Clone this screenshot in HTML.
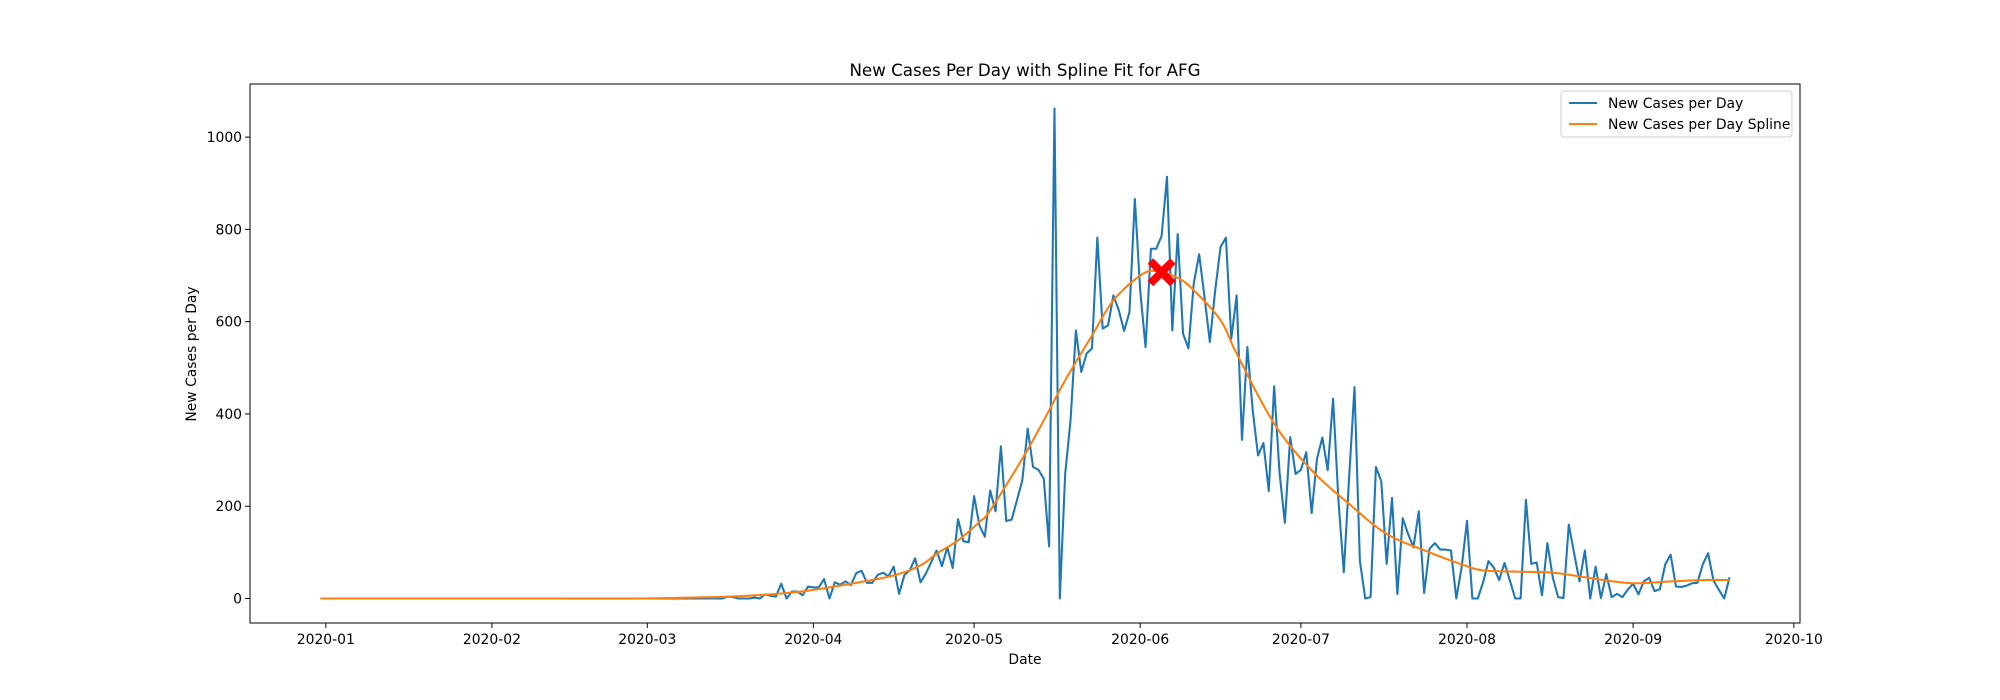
<!DOCTYPE html>
<html><head><meta charset="utf-8"><style>
html,body{margin:0;padding:0;background:#fff;}
svg{display:block;font-family:"DejaVu Sans","Liberation Sans",sans-serif;}
</style></head><body>
<svg id="chart" width="2000" height="700" viewBox="0 0 2000 700" xmlns="http://www.w3.org/2000/svg">
<rect x="0" y="0" width="2000" height="700" fill="#fff"/>
<text x="1025" y="76" text-anchor="middle" font-size="16.7">New Cases Per Day with Spline Fit for AFG</text>
<text x="1025" y="664" text-anchor="middle" font-size="13.9">Date</text>
<text transform="translate(196,354) rotate(-90)" text-anchor="middle" font-size="13.9">New Cases per Day</text>
<g id="axes"></g>
<g id="series"></g>
<rect x="250" y="84" width="1550" height="539" fill="none" stroke="#000" stroke-width="1"/>
<g id="legend">
<rect x="1561" y="91" width="231" height="46" rx="3" fill="#fff" fill-opacity="0.8" stroke="#ccc"/>
<line x1="1569" y1="103" x2="1597" y2="103" stroke="#1f77b4" stroke-width="2.08"/>
<text x="1608" y="108" font-size="13.9">New Cases per Day</text>
<line x1="1569" y1="124" x2="1597" y2="124" stroke="#ff7f0e" stroke-width="2.08"/>
<text x="1608" y="129" font-size="13.9">New Cases per Day Spline</text>
</g>
</svg>
<script>
// Day 0 = 2019-12-31
const caseDays = [76,77,78,79,80,81,82,83,84,85,86,87,88,89,90,91,92,93,94,95,96,97,98,99,100,101,102,103,104,105,106,107,108,109,110,111,112,113,114,115,116,117,118,119,120,121,122,123,124,125,126,127,128,129,130,131,132,133,134,135,136,137,138,139,140,141,142,143,144,145,146,147,148,149,150,151,152,153,154,155,156,157,158,159,160,161,162,163,164,165,166,167,168,169,170,171,172,173,174,175,176,177,178,179,180,181,182,183,184,185,186,187,188,189,190,191,192,193,194,195,196,197,198,199,200,201,202,203,204,205,206,207,208,209,210,211,212,213,214,215,216,217,218,219,220,221,222,223,224,225,226,227,228,229,230,231,232,233,234,235,236,237,238,239,240,241,242,243,244,245,246,247,248,249,250,251,252,253,254,255,256,257,258,259,260,261,262,263];
const caseVals = [4,3,0,0,0,2,0,9,6,4,32,0,15,15,7,26,24,24,42,0,35,30,37,29,55,60,34,34,51,56,48,69,10,51,61,87,35,54,79,104,70,111,66,172,124,122,222,158,134,234,189,330,168,171,213,256,368,285,279,260,113,1062,0,270,386,581,491,531,542,782,585,592,657,625,580,621,866,668,545,758,758,786,914,581,790,574,542,683,746,654,556,668,762,782,563,657,344,545,408,310,337,233,460,274,164,350,270,279,317,185,303,349,278,433,213,57,263,458,82,0,3,285,254,75,218,10,174,140,111,189,12,108,120,106,106,104,0,68,168,0,0,35,81,67,40,77,39,0,0,214,75,78,7,120,46,3,1,160,97,37,104,0,69,1,53,3,10,3,19,32,9,37,45,16,20,74,95,26,25,28,33,34,74,98,39,19,0,46];
const splineDays = [0,39,59,69,76,84,91,99,107,112,115,119,123,125,131,135,139,144,148,153,156,160,163,168,171,178,185,192,199,207,213,217,224,230,236,242,246,252,258,263];
const splineVals = [0,0,0,2,4,9,17,32,50,72,97,126,166,191,303,386,473,570,646,700,710,695,668,603,531,379,278,205,140,100,74,61,58,56,46,36,33,37,40,40];
const yTicks = [0,200,400,600,800,1000];
const xTickDays = [1,32,61,92,122,153,183,214,245,275];
const xTickLabels = ["2020-01","2020-02","2020-03","2020-04","2020-05","2020-06","2020-07","2020-08","2020-09","2020-10"];
const markerDay = 157;
const markerVal = 707;

const NS = "http://www.w3.org/2000/svg";
const L = 250, R = 1800, T = 84, B = 623;
const firstDay = 0, lastDay = caseDays[caseDays.length-1];
const dspan = lastDay - firstDay;
const xmin = firstDay - 0.05*dspan, xmax = lastDay + 0.05*dspan;
const vmax = Math.max(...caseVals), vmin = 0;
const ymin = vmin - 0.05*(vmax-vmin), ymax = vmax + 0.05*(vmax-vmin);
const X = d => L + (d - xmin)/(xmax - xmin)*(R - L);
const Y = v => B - (v - ymin)/(ymax - ymin)*(B - T);
function mk(tag, attrs, parent){const e=document.createElementNS(NS,tag);for(const k in attrs)e.setAttribute(k,attrs[k]);parent.appendChild(e);return e;}

const axes = document.getElementById('axes');
yTicks.forEach(v=>{
  const y = Y(v);
  const t = mk('line',{x1:L-4.9,x2:L,y1:y,y2:y,stroke:'#000','stroke-width':1},axes);
  
  
  const tx = mk('text',{x:L-8,y:y+5,'text-anchor':'end','font-size':13.9},axes);
  
  
  tx.textContent = v;
});
xTickDays.forEach((d,i)=>{
  const x = X(d);
  const t = mk('line',{x1:x,x2:x,y1:B,y2:B+4.9,stroke:'#000','stroke-width':1},axes);
  
  
  const tx = mk('text',{x:x,y:B+21,'text-anchor':'middle','font-size':13.9},axes);
  
  
  tx.textContent = xTickLabels[i];
});

const series = document.getElementById('series');
const allDays = [], allVals = [];
for(let d=firstDay; d<caseDays[0]; d++){allDays.push(d);allVals.push(0);}
caseDays.forEach((d,i)=>{allDays.push(d);allVals.push(caseVals[i]);});
const pts = allDays.map((d,i)=>X(d).toFixed(2)+','+Y(allVals[i]).toFixed(2)).join(' ');
const cl = mk('polyline',{points:pts,fill:'none',stroke:'#1f77b4','stroke-width':2.08,'stroke-linejoin':'round'},series);



const sp = [];
for(let i=0;i<splineDays.length-1;i++){
  const p0=i>0?i-1:i, p3=i+2<splineDays.length?i+2:i+1;
  for(let s=0;s<10;s++){
    const t=s/10, t2=t*t, t3=t2*t;
    const f=(a,b,c,e)=>0.5*((2*b)+(-a+c)*t+(2*a-5*b+4*c-e)*t2+(-a+3*b-3*c+e)*t3);
    const d=f(splineDays[p0],splineDays[i],splineDays[i+1],splineDays[p3]);
    const v=f(splineVals[p0],splineVals[i],splineVals[i+1],splineVals[p3]);
    sp.push(X(d).toFixed(2)+','+Y(v).toFixed(2));
  }
}
sp.push(X(splineDays[splineDays.length-1]).toFixed(2)+','+Y(splineVals[splineVals.length-1]).toFixed(2));
const sl = mk('polyline',{points:sp.join(' '),fill:'none',stroke:'#ff7f0e','stroke-width':2.08,'stroke-linejoin':'round'},series);



const mx=X(markerDay), my=Y(markerVal), a=14, w=5.5;
const xp = [[-a+w,-a],[0,-w],[a-w,-a],[a,-a+w],[w,0],[a,a-w],[a-w,a],[0,w],[-a+w,a],[-a,a-w],[-w,0],[-a,-a+w]].map(p=>(mx+p[0]).toFixed(2)+','+(my+p[1]).toFixed(2)).join(' ');
const mkr = mk('polygon',{points:xp,fill:'#ff0000'},series);


</script>
</body></html>
